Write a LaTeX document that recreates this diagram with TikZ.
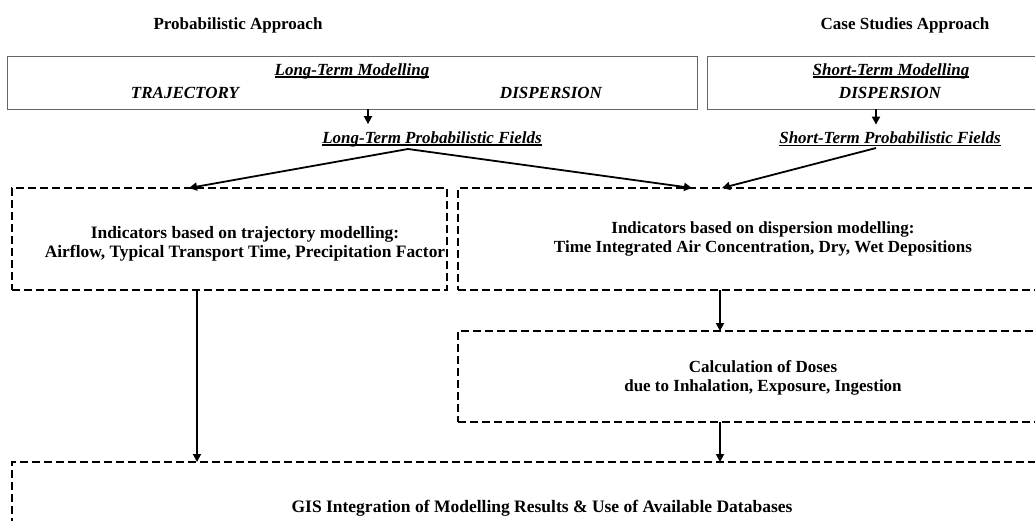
\documentclass[tikz,border=0pt]{standalone}
\usepackage{fontspec}
\setmainfont{Liberation Serif}
\usetikzlibrary{arrows.meta}
\newcommand\ulx[1]{\setbox0\hbox{#1}\rlap{\raisebox{-2.6pt}{\rule{\wd0}{1.3pt}}}\box0}
\begin{document}
\begin{tikzpicture}[x=1pt,y=-1pt,
  solidbox/.style={draw=black!60, line width=1pt, inner sep=0pt, outer sep=0pt, anchor=north west},
  dashbox/.style={draw, line width=1.8pt, dash pattern=on 8pt off 4pt, inner sep=0pt, outer sep=0pt, anchor=north west},
  lbl/.style={font=\fontsize{17}{19}\selectfont\bfseries, inner sep=0pt, align=center},
  ilbl/.style={font=\fontsize{17}{19}\selectfont\bfseries\itshape, inner sep=0pt, align=center},
  conn/.style={line width=1.8pt, -{Triangle[length=8pt,width=8pt]}},
]
\useasboundingbox (0,0) rectangle (1035,520);
\clip (0,0) rectangle (1035,520);

% headings
\node[lbl] (h1) at (238,25) {Probabilistic Approach};
\node[lbl] (h2) at (905,25) {Case Studies Approach};

% top boxes
\node[solidbox, minimum width=690pt, minimum height=53pt] (lbox) at (7,56) {};
\node[solidbox, minimum width=340pt, minimum height=53pt] (sbox) at (707,56) {};
\node[ilbl] (lt) at (352,71) {\ulx{Long-Term Modelling}};
\node[ilbl] (traj) at (185,93) {TRAJECTORY};
\node[ilbl] (disp1) at (551,93) {DISPERSION};
\node[ilbl] (st) at (891,71) {\ulx{Short-Term Modelling}};
\node[ilbl] (disp2) at (890,93) {DISPERSION};

% fields
\node[ilbl] (lf) at (432,139) {\ulx{Long-Term Probabilistic Fields}};
\node[ilbl] (sf) at (890,139) {\ulx{Short-Term Probabilistic Fields}};

% dashed boxes
\node[dashbox, minimum width=435pt, minimum height=102pt] (tbox) at (12,188) {};
\node[dashbox, minimum width=620pt, minimum height=102pt] (dbox) at (458,188) {};
\node[dashbox, minimum width=620pt, minimum height=91pt] (dose) at (458,331) {};
\node[dashbox, minimum width=1060pt, minimum height=140pt] (gis) at (12,462) {};

\node[lbl, font=\fontsize{17.4}{19}\selectfont\bfseries] (ttext) at (245,243.5) {Indicators based on trajectory modelling:\\Airflow, Typical Transport Time, Precipitation Factor};
\node[lbl] (dtext) at (763,239) {Indicators based on dispersion modelling:\\Time Integrated Air Concentration, Dry, Wet Depositions};
\node[lbl] (dosetext) at (763,378) {Calculation of Doses\\due to Inhalation, Exposure, Ingestion};
\node[lbl, font=\fontsize{17.5}{19}\selectfont\bfseries] (gistext) at (542,508) {GIS Integration of Modelling Results \& Use of Available Databases};

% connectors
\coordinate (la) at ([xshift=361pt]lbox.south west);
\coordinate (sa) at ([xshift=169pt]sbox.south west);
\coordinate (lfo) at (408,149);
\coordinate (sfo) at (876,148);
\draw[conn, shorten >=7pt] (la) -- (la |- lf.north);
\draw[conn, shorten >=7pt] (sa) -- (sa |- sf.north);
\draw[conn] (lfo) -- ([xshift=177pt]tbox.north west);
\draw[conn] (lfo) -- ([xshift=234pt]dbox.north west);
\draw[conn] (sfo) -- ([xshift=264pt]dbox.north west);
\draw[conn] ([xshift=262pt]dbox.south west) -- ([xshift=262pt]dose.north west);
\draw[conn] ([xshift=262pt]dose.south west) -- ([xshift=708pt]gis.north west);
\draw[conn] ([xshift=185pt]tbox.south west) -- ([xshift=185pt]gis.north west);
\end{tikzpicture}
\end{document}
